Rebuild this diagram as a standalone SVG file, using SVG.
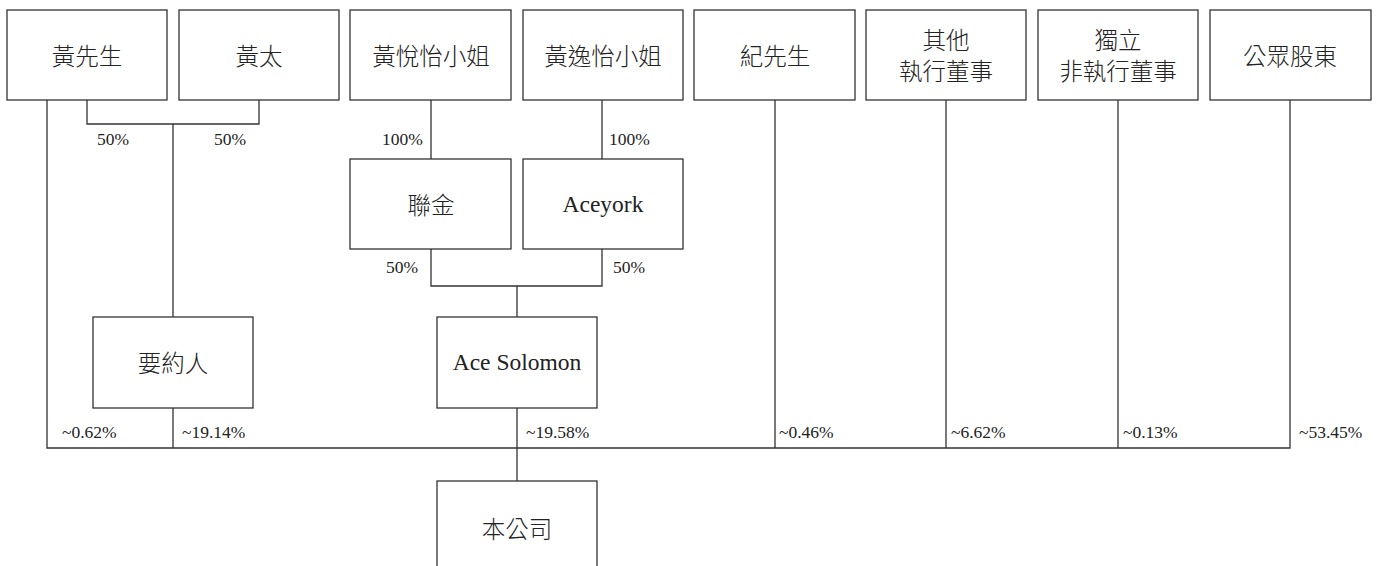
<svg xmlns="http://www.w3.org/2000/svg" width="1381" height="566" viewBox="0 0 1381 566">
<style>
rect.box{fill:#fff;stroke:#333;stroke-width:1.3}
.lines path{fill:none;stroke:#333;stroke-width:1.3}
.cjk{font-family:"Noto Sans CJK TC","Noto Sans CJK SC",sans-serif;font-size:23.5px;font-weight:300;fill:#222;text-anchor:middle;dominant-baseline:central}
.lat{font-family:"Liberation Serif",serif;font-size:23.5px;fill:#222;text-anchor:middle;dominant-baseline:central}
.pct{font-family:"Liberation Serif",serif;font-size:17.5px;fill:#222}
</style>
<rect width="1381" height="566" fill="#fff"/>
<g class="lines" id="connectors">
<path d="M87 100V124H259V100M173 124V317"/>
<path d="M47 100V448H1290V100"/>
<path d="M173 408V448"/>
<path d="M431 100V159M602 100V159"/>
<path d="M431 249V286H602V249M517 286V317"/>
<path d="M517 408V481"/>
<path d="M775 100V448M946 100V448M1118 100V448"/>
</g>
<g id="n1"><rect class="box" x="7" y="10" width="160" height="90"/><text class="cjk" x="87" y="55">黃先生</text></g>
<g id="n2"><rect class="box" x="179" y="10" width="160" height="90"/><text class="cjk" x="259" y="55">黃太</text></g>
<g id="n3"><rect class="box" x="350" y="10" width="161" height="90"/><text class="cjk" x="431" y="55">黃悅怡小姐</text></g>
<g id="n4"><rect class="box" x="523" y="10" width="160" height="90"/><text class="cjk" x="603" y="55">黃逸怡小姐</text></g>
<g id="n5"><rect class="box" x="694" y="10" width="161" height="90"/><text class="cjk" x="775" y="55">紀先生</text></g>
<g id="n6"><rect class="box" x="866" y="10" width="160" height="90"/><text class="cjk" x="946" y="39">其他</text><text class="cjk" x="946" y="70">執行董事</text></g>
<g id="n7"><rect class="box" x="1038" y="10" width="160" height="90"/><text class="cjk" x="1118" y="39">獨立</text><text class="cjk" x="1118" y="70">非執行董事</text></g>
<g id="n8"><rect class="box" x="1210" y="10" width="161" height="90"/><text class="cjk" x="1290" y="55">公眾股東</text></g>
<g id="n9"><rect class="box" x="350" y="159" width="161" height="90"/><text class="cjk" x="431" y="204">聯金</text></g>
<g id="n10"><rect class="box" x="523" y="159" width="160" height="90"/><text class="lat" x="603" y="204">Aceyork</text></g>
<g id="n11"><rect class="box" x="93" y="317" width="160" height="91"/><text class="cjk" x="173" y="362">要約人</text></g>
<g id="n12"><rect class="box" x="437" y="317" width="160" height="91"/><text class="lat" x="517" y="362">Ace Solomon</text></g>
<g id="n13"><rect class="box" x="437" y="481" width="160" height="95"/><text class="cjk" x="517" y="528">本公司</text></g>
<g id="labels">
<text class="pct" x="97" y="145">50%</text>
<text class="pct" x="214" y="145">50%</text>
<text class="pct" x="382" y="145">100%</text>
<text class="pct" x="609" y="145">100%</text>
<text class="pct" x="386" y="273">50%</text>
<text class="pct" x="613" y="273">50%</text>
<text class="pct" x="62" y="438">~0.62%</text>
<text class="pct" x="182" y="438">~19.14%</text>
<text class="pct" x="526" y="438">~19.58%</text>
<text class="pct" x="779" y="438">~0.46%</text>
<text class="pct" x="951" y="438">~6.62%</text>
<text class="pct" x="1123" y="438">~0.13%</text>
<text class="pct" x="1299" y="438">~53.45%</text>
</g>
</svg>
